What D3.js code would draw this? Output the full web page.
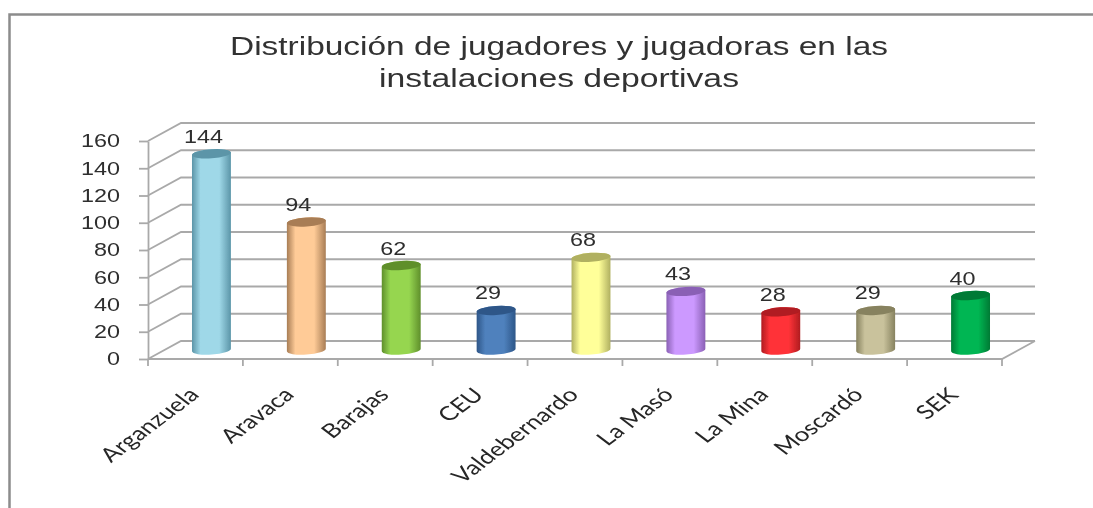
<!DOCTYPE html>
<html>
<head>
<meta charset="utf-8">
<script src="https://cdnjs.cloudflare.com/ajax/libs/d3/7.8.5/d3.min.js"></script>
<style>
html, body { margin: 0; padding: 0; background: #fff; }
svg { display: block; }
</style>
</head>
<body>
<svg id="chart" width="1093" height="508"></svg>
<script>
var categories = ["Arganzuela", "Aravaca", "Barajas", "CEU", "Valdebernardo", "La Masó", "La Mina", "Moscardó", "SEK"];
var values = [144, 94, 62, 29, 68, 43, 28, 29, 40];
var lightColors = ["#9fd8e8", "#ffcb97", "#96d650", "#4f81bd", "#ffff99", "#cc99ff", "#ff3338", "#c9c29c", "#00b652"];
var darkColors = ["#5b95a8", "#a87d55", "#5f8f2c", "#2d5688", "#b0b060", "#8a60b5", "#b01c20", "#87825f", "#007a35"];
var yTicks = [0, 20, 40, 60, 80, 100, 120, 140, 160];
var titleLines = ["Distribución de jugadores y jugadoras en las", "instalaciones deportivas"];

var left = 148, right = 1002, floorY = 359, topY = 141;
var depthX = 33, depthY = -18;
var gridColor = "#a9a9a9", textColor = "#2e2e2e";

var svg = d3.select("#chart");
var defs = svg.append("defs");
defs.append("filter").attr("id", "soft").append("feGaussianBlur").attr("stdDeviation", 0.45);

var x = d3.scaleBand().domain(categories).range([left, right]).padding(0);
var y = d3.scaleLinear().domain([0, 160]).range([floorY, topY]);

var root = svg.append("g").attr("filter", "url(#soft)");

// outer frame of the screenshot
root.append("path")
    .attr("d", "M9.5,508V14.5H1093")
    .attr("fill", "none")
    .attr("stroke", "#8c8c8c")
    .attr("stroke-width", 2.5);

titleLines.forEach(function (line, i) {
    root.append("text")
        .attr("x", 559)
        .attr("y", 55 + i * 32)
        .attr("text-anchor", "middle")
        .attr("font-family", "Liberation Sans")
        .attr("font-size", 26)
        .attr("fill", "#333")
        .attr("textLength", i == 0 ? 658 : 360)
        .attr("lengthAdjust", "spacingAndGlyphs")
        .text(line);
});

// walls and floor
var grid = root.append("g").attr("fill", "none").attr("stroke", gridColor).attr("stroke-width", 1.8);
yTicks.forEach(function (t) {
    grid.append("path")
        .attr("d", d3.line()([[left, y(t)], [left + depthX, y(t) + depthY], [right + depthX, y(t) + depthY]]));
});
grid.append("path")
    .attr("d", d3.line()([[left, floorY], [right, floorY], [right + depthX, floorY + depthY]]));

// axes
var yAxis = root.append("g")
    .attr("transform", "translate(" + left + ",0)")
    .call(d3.axisLeft(y).tickValues(yTicks).tickSize(9).tickSizeOuter(0));
yAxis.select(".domain").attr("stroke", gridColor).attr("stroke-width", 1.8);
yAxis.selectAll(".tick line").attr("stroke", gridColor).attr("stroke-width", 1.8);
yAxis.selectAll(".tick text")
    .attr("x", -28 / 1.3)
    .attr("transform", "scale(1.3,1)")
    .attr("font-family", "Liberation Sans")
    .attr("font-size", 18)
    .attr("fill", textColor);

var xEdges = categories.map(function (c) { return x(c); }).concat([right]);
var xTicks = root.append("g").attr("stroke", gridColor).attr("stroke-width", 1.8);
xEdges.forEach(function (e) {
    xTicks.append("line").attr("x1", e).attr("x2", e).attr("y1", floorY).attr("y2", floorY + 7);
});

// cylinders
var rx = x.bandwidth() * 0.205, ry = 4.5, tilt = -4;
var lift = Math.sin(-tilt * Math.PI / 180) * rx;
var baseY = floorY - 9;
var shift = x.bandwidth() / 2 + 16;

categories.forEach(function (c, i) {
    var grad = defs.append("linearGradient").attr("id", "cyl" + i);
    grad.append("stop").attr("offset", "0%").attr("stop-color", darkColors[i]);
    grad.append("stop").attr("offset", "22%").attr("stop-color", lightColors[i]);
    grad.append("stop").attr("offset", "70%").attr("stop-color", lightColors[i]);
    grad.append("stop").attr("offset", "100%").attr("stop-color", darkColors[i]);
});

var bars = root.selectAll("g.bar")
    .data(values)
    .enter().append("g")
    .attr("class", "bar")
    .attr("transform", function (d, i) { return "translate(" + (x(categories[i]) + shift) + ",0)"; });

bars.append("path")
    .attr("fill", function (d, i) { return "url(#cyl" + i + ")"; })
    .attr("d", function (d) {
        var top = y(d) - 9;
        return "M" + (-rx) + "," + (top + lift)
            + "V" + (baseY + lift)
            + "A" + rx + "," + ry + "," + tilt + ",0,0," + rx + "," + (baseY - lift)
            + "V" + (top - lift)
            + "A" + rx + "," + ry + "," + tilt + ",0,0," + (-rx) + "," + (top + lift) + "Z";
    });

bars.append("ellipse")
    .attr("rx", rx)
    .attr("ry", ry)
    .attr("fill", function (d, i) { return darkColors[i]; })
    .attr("transform", function (d) { return "translate(0," + (y(d) - 9) + ") rotate(" + tilt + ")"; });

bars.append("text")
    .attr("transform", function (d) { return "translate(-8," + (y(d) - 20) + ") scale(1.3,1)"; })
    .attr("text-anchor", "middle")
    .attr("font-family", "Liberation Sans")
    .attr("font-size", 18)
    .attr("fill", textColor)
    .text(function (d) { return d; });

// category labels
root.selectAll("text.cat")
    .data(categories)
    .enter().append("text")
    .attr("class", "cat")
    .attr("transform", function (d) {
        return "translate(" + (x(d) + x.bandwidth() / 2 + 5) + ",396) scale(1.33,1) rotate(-45)";
    })
    .attr("text-anchor", "end")
    .attr("font-family", "Lato")
    .attr("font-size", 19.5)
    .attr("fill", "#262626")
    .text(function (d) { return d; });
</script>
</body>
</html>
